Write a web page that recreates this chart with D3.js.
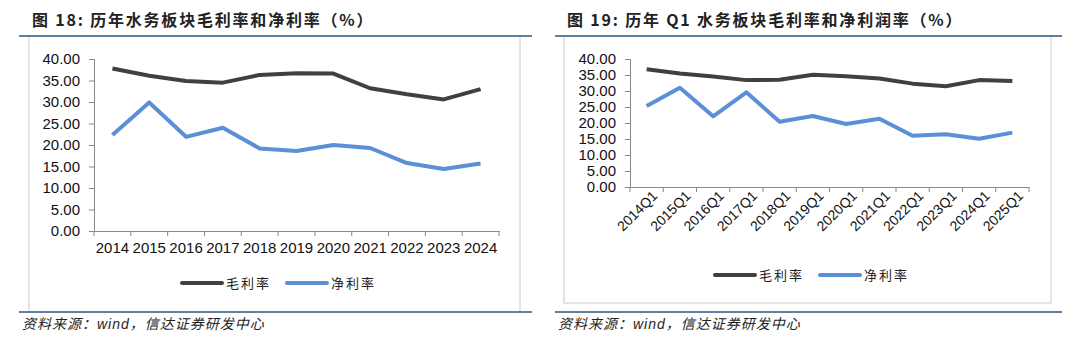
<!DOCTYPE html>
<html>
<head>
<meta charset="utf-8">
<script src="https://cdn.jsdelivr.net/npm/d3@7"></script>
<style>
  body { margin: 0; background: #fff; }
  svg { display: block; }
</style>
</head>
<body>
<div id="chart"></div>
<script>
// data
var years = ["2014","2015","2016","2017","2018","2019","2020","2021","2022","2023","2024"];
var grossYear = [37.8, 36.1, 34.9, 34.5, 36.3, 36.7, 36.6, 33.2, 31.8, 30.6, 33.0];
var netYear = [22.3, 29.9, 21.9, 24.0, 19.2, 18.6, 20.0, 19.3, 15.8, 14.4, 15.7];

var quarters = ["2014Q1","2015Q1","2016Q1","2017Q1","2018Q1","2019Q1","2020Q1","2021Q1","2022Q1","2023Q1","2024Q1","2025Q1"];
var grossQ1 = [36.8, 35.5, 34.5, 33.4, 33.5, 35.1, 34.6, 33.9, 32.3, 31.5, 33.4, 33.1];
var netQ1 = [25.3, 31.0, 22.1, 29.6, 20.4, 22.2, 19.7, 21.3, 16.0, 16.5, 15.1, 17.0];

var yTicks = [0, 5, 10, 15, 20, 25, 30, 35, 40];
var seriesNames = ["毛利率", "净利率"];
var colors = ["#404040", "#5b8fd6"];

var numFont = "'Liberation Sans', Arial, sans-serif";
var cjkFont = "'Noto Sans CJK SC', sans-serif";

var svg = d3.select("#chart").append("svg").attr("width", 1080).attr("height", 338);

function panel(opt) {
  var g = svg.append("g");

  // title + rules
  g.append("text").attr("x", opt.titleX).attr("y", 26)
    .style("font-family", cjkFont).style("font-weight", "bold").style("font-size", "16px")
    .style("letter-spacing", "1.8px").style("fill", "#222")
    .text(opt.title);
  g.append("rect").attr("x", opt.boxL).attr("y", 36).attr("width", opt.boxR - opt.boxL).attr("height", opt.boxB - 36)
    .style("fill", "none").style("stroke", "#dcdcdc").style("stroke-width", 1.5);
  g.append("line").attr("x1", opt.ruleL).attr("x2", opt.ruleR).attr("y1", 36).attr("y2", 36)
    .style("stroke", "#5f7fa3").style("stroke-width", 2);
  g.append("line").attr("x1", opt.ruleL).attr("x2", opt.ruleR).attr("y1", 312).attr("y2", 312)
    .style("stroke", "#5f7fa3").style("stroke-width", 2);

  // footer
  var ft = g.append("text").attr("x", opt.ruleL + 3).attr("y", 329)
    .style("font-size", "14px").style("font-style", "italic").style("fill", "#222")
    .style("letter-spacing", "1px");
  ft.append("tspan").style("font-family", cjkFont).text("资料来源：");
  ft.append("tspan").style("font-family", numFont).text("wind");
  ft.append("tspan").style("font-family", cjkFont).text("，信达证券研发中心");

  var x = d3.scaleBand().domain(opt.cats).range([opt.x0, opt.x1]);
  var y = d3.scaleLinear().domain([0, 40]).range([opt.yBot, opt.yTop]);

  // axes
  var yAxis = d3.axisLeft(y).tickValues(yTicks).tickFormat(d3.format(".2f")).tickSize(5).tickPadding(9);
  var ya = g.append("g").attr("transform", "translate(" + opt.x0 + ",0)").call(yAxis);
  ya.selectAll("text").style("font-family", numFont).style("font-size", opt.yFont).style("fill", "#111");

  var xAxis = d3.axisBottom(x).tickSize(0).tickPadding(opt.xPad);
  var xa = g.append("g").attr("transform", "translate(0," + opt.yBot + ")").call(xAxis);
  xa.selectAll("text").style("font-family", numFont).style("font-size", opt.xFont).style("fill", "#111");
  if (opt.rotate) {
    xa.selectAll("text").attr("text-anchor", "end")
      .attr("transform", "translate(4,2) rotate(-45)").attr("dy", "0.35em");
  }
  // category boundary ticks
  var bounds = opt.cats.map(function(c) { return x(c); }).concat([opt.x1]);
  g.append("g").selectAll("line").data(bounds).enter().append("line")
    .attr("x1", function(d) { return d; }).attr("x2", function(d) { return d; })
    .attr("y1", opt.yBot).attr("y2", opt.yBot + 5)
    .style("stroke", "#888").style("stroke-width", 1);
  g.selectAll(".domain, .tick line").style("stroke", "#888");

  // lines
  var line = d3.line()
    .x(function(d, i) { return x(opt.cats[i]) + x.bandwidth() / 2; })
    .y(function(d) { return y(d); });
  [opt.gross, opt.net].forEach(function(s, k) {
    g.append("path").datum(s).attr("d", line)
      .style("fill", "none").style("stroke", colors[k]).style("stroke-width", 4)
      .style("stroke-linejoin", "round");
  });

  // legend
  seriesNames.forEach(function(name, k) {
    var lx = opt.legX + k * 105;
    g.append("line").attr("x1", lx).attr("x2", lx + 40).attr("y1", opt.legY).attr("y2", opt.legY)
      .style("stroke", colors[k]).style("stroke-width", 4).style("stroke-linecap", "round");
    g.append("text").attr("x", lx + 44).attr("y", opt.legY + 5)
      .style("font-family", cjkFont).style("font-size", "13px").style("fill", "#222")
      .style("letter-spacing", "2px")
      .text(name);
  });
}

panel({
  title: "图 18: 历年水务板块毛利率和净利率（%）",
  titleX: 32, ruleL: 19, ruleR: 532, boxL: 29, boxR: 520, boxB: 312,
  cats: years, gross: grossYear, net: netYear,
  x0: 94, x1: 499, yTop: 59, yBot: 231,
  yFont: "15px", xFont: "15px", xPad: 11, rotate: false,
  legX: 182, legY: 283
});

panel({
  title: "图 19: 历年 Q1 水务板块毛利率和净利润率（%）",
  titleX: 567, ruleL: 555, ruleR: 1062, boxL: 564, boxR: 1051, boxB: 303,
  cats: quarters, gross: grossQ1, net: netQ1,
  x0: 630, x1: 1029, yTop: 59, yBot: 187,
  yFont: "15px", xFont: "14px", xPad: 6, rotate: true,
  legX: 715, legY: 275
});
</script>
</body>
</html>
